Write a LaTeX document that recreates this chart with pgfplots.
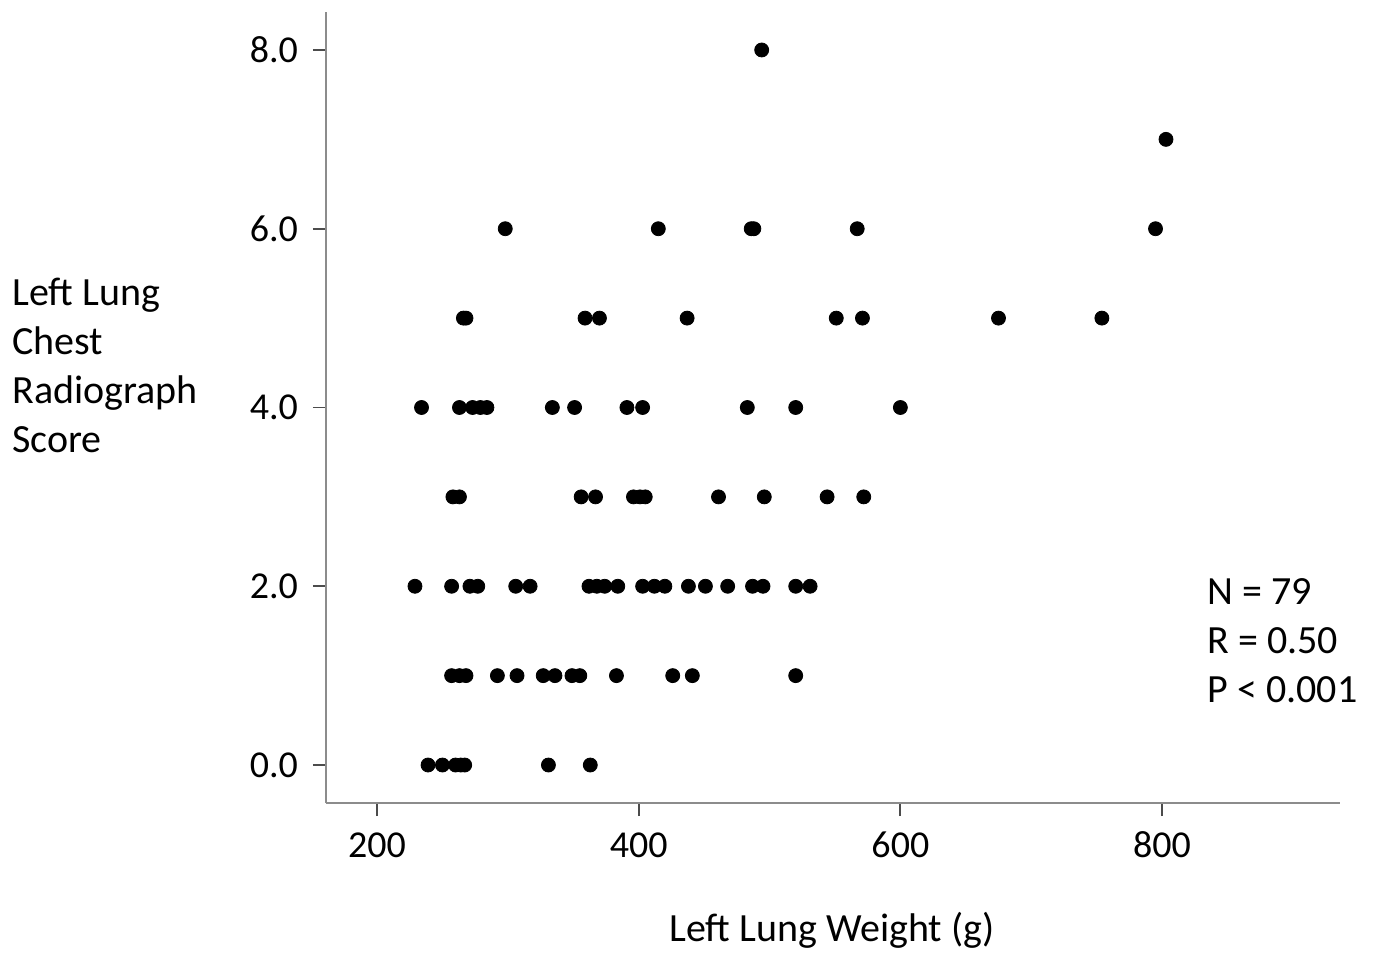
\documentclass[border=0pt]{standalone}
\usepackage{pgfplots}
\pgfplotsset{compat=1.18}
\usepackage{fontspec}
\setmainfont{Carlito}
\begin{document}
\begin{tikzpicture}
\useasboundingbox (-163pt,-76pt) rectangle (524.5pt,401.5pt);
\begin{axis}[
  at={(0,0)}, anchor=south west,
  scale only axis, width=507pt, height=395.5pt,
  xmin=161, xmax=936, ymin=-0.425, ymax=8.425,
  axis lines*=left,
  axis line style={draw=black!45, line width=0.8pt},
  xtick={200,400,600,800},
  ytick={0,2,4,6,8},
  tick align=outside,
  major tick length=6.5pt,
  tick style={draw=black!70, line width=0.9pt},
  xticklabel style={font=\fontsize{19}{19}\selectfont, yshift=-4pt, text height=13pt, text depth=0pt},
  yticklabel style={font=\fontsize{19}{19}\selectfont, xshift=-4pt},
  /pgf/number format/assume math mode=true,
  yticklabel={\pgfmathprintnumber[fixed,fixed zerofill,precision=1]{\tick}},
  xticklabel={\pgfmathprintnumber[fixed]{\tick}},
  clip=false,
]
\addplot[only marks, mark=*, mark size=3.5pt, black] coordinates {
(494,8) (803,7)
(298,6) (415,6) (486,6) (488,6) (567,6) (795,6)
(266,5) (268,5) (359,5) (370,5) (437,5) (551,5) (571,5) (675,5) (754,5)
(234,4) (263,4) (273,4) (279,4) (284,4) (334,4) (351,4) (391,4) (403,4) (483,4) (520,4) (600,4)
(258,3) (263,3) (356,3) (367,3) (396,3) (401,3) (405,3) (461,3) (496,3) (544,3) (572,3)
(229,2) (257,2) (271,2) (277,2) (306,2) (317,2) (362,2) (368,2) (374,2) (384,2) (403,2) (412,2) (420,2) (438,2) (451,2) (468,2) (487,2) (495,2) (520,2) (531,2)
(257,1) (263,1) (268,1) (292,1) (307,1) (327,1) (336,1) (349,1) (355,1) (383,1) (426,1) (441,1) (520,1)
(239,0) (250,0) (260,0) (264,0) (267,0) (331,0) (363,0)
};
\end{axis}
\node[anchor=west, align=left, inner sep=0pt, font=\fontsize{20}{24.5}\selectfont] at (-157pt,219pt) {Left Lung\\Chest\\Radiograph\\Score};
\node[anchor=west, align=left, inner sep=0pt, font=\fontsize{20}{24.5}\selectfont] at (440.5pt,81pt) {N = 79\\R = 0.50\\P {\textless} 0.001};
\node[inner sep=0pt, font=\fontsize{20}{24}\selectfont] at (253pt,-63.5pt) {Left Lung Weight (g)};
\end{tikzpicture}
\end{document}
